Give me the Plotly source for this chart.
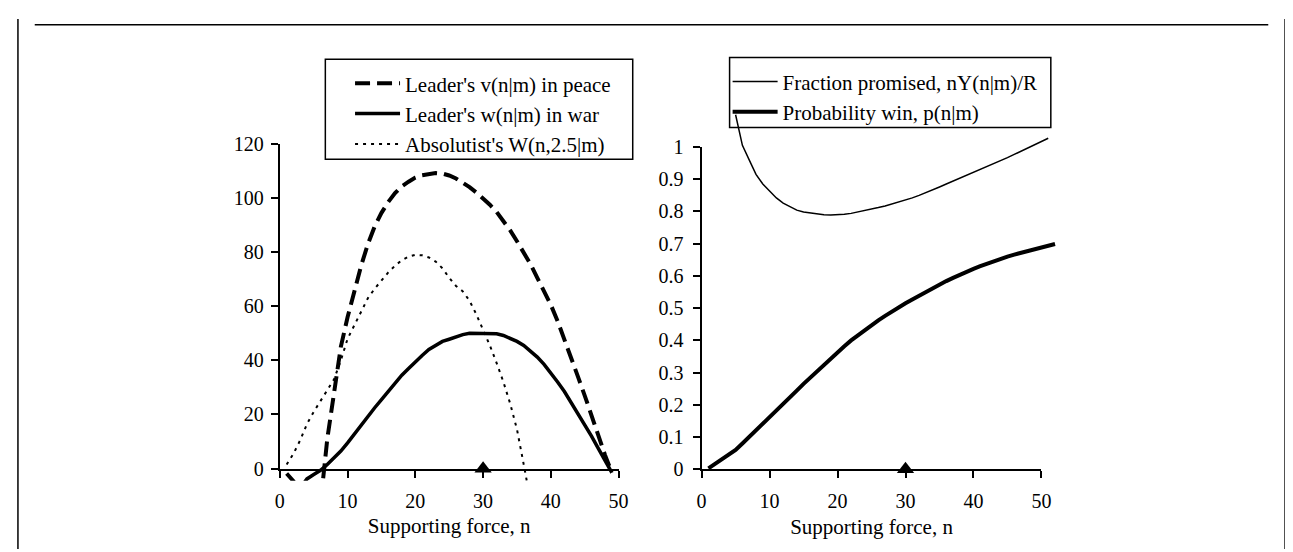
import plotly.graph_objects as go

# ---------------- data ----------------
n_left = list(range(1, 50))
peace_v = [-1.8, -4.6, -9, -14, -17, -13, 11, 28, 45, 56, 66, 75, 83, 89.5, 94.5, 98.5, 101.8,
           104.3, 106, 107.5, 108.4, 108.9, 109.2, 109, 108.3, 107.2, 105.8, 104, 102, 99.8,
           97.5, 94.8, 91.5, 88, 84, 80, 75.5, 70.5, 65.5, 60.5, 54.5, 48, 41, 34, 27, 19.5,
           12.5, 5, -1.5]
war_w = [-14, -10.5, -7.5, -3.8, -2.2, -0.6, 1.5, 3.8, 6.5, 9.5, 12.8, 16, 19.5, 22.5, 25.5,
         28.5, 31.5, 34.5, 37, 39.5, 41.8, 44, 45.5, 47, 47.8, 48.8, 49.5, 50, 50, 50, 50,
         49.8, 49.2, 48.2, 47, 45.5, 43.5, 41.2, 38.5, 35.5, 32, 28.5, 24.5, 20.5, 16.5, 12,
         7.5, 3, -1.5]
n_abs = list(range(1, 38))
absolutist_W = [1.5, 5.5, 10.5, 16.5, 21, 25, 29, 33, 40, 48, 53, 58, 63, 66.5, 69.5, 72.5,
                75, 77, 78.3, 79, 78.8, 78, 76.5, 74, 70.5, 67.5, 65.5, 62, 57, 51.5, 45.5,
                39, 32, 24, 14.5, 1.5, -12]

n_frac = list(range(5, 52))
fraction_promised = [1.10, 1.005, 0.96, 0.915, 0.885, 0.862, 0.842, 0.826, 0.814, 0.804,
                     0.798, 0.795, 0.792, 0.79, 0.789, 0.789, 0.791, 0.794, 0.798, 0.802,
                     0.807, 0.812, 0.817, 0.823, 0.829, 0.835, 0.842, 0.85, 0.858, 0.867,
                     0.876, 0.885, 0.894, 0.903, 0.912, 0.92, 0.929, 0.938, 0.948, 0.957,
                     0.967, 0.977, 0.987, 0.997, 1.008, 1.018, 1.027]
n_prob = list(range(1, 53))
prob_win = [0.003, 0.018, 0.032, 0.047, 0.06, 0.08, 0.1, 0.12, 0.14, 0.16, 0.18, 0.2, 0.222,
            0.244, 0.265, 0.285, 0.306, 0.326, 0.346, 0.364, 0.382, 0.4, 0.416, 0.432, 0.448,
            0.462, 0.476, 0.49, 0.503, 0.515, 0.527, 0.539, 0.551, 0.562, 0.573, 0.584, 0.594,
            0.604, 0.613, 0.622, 0.63, 0.638, 0.646, 0.653, 0.66, 0.666, 0.672, 0.678, 0.684,
            0.689, 0.694, 0.699]

marker_n = [30]
marker_y_left = [0]
marker_y_right = [0]

x_ticks = [0, 10, 20, 30, 40, 50]
left_y_ticks = [0, 20, 40, 60, 80, 100, 120]
right_y_ticks = [0, 0.1, 0.2, 0.3, 0.4, 0.5, 0.6, 0.7, 0.8, 0.9, 1]

# ---------------- layout geometry ----------------
W, H = 1293, 552
FONT = "Liberation Serif"
TICK_SIZE = 20
TEXT_SIZE = 21


def fx(p):
    return p / W


def fy(p):
    return 1 - p / H


# left panel pixel geometry
LX0, LX1 = 270.0, 612.7      # x=0, x=50
LY0, LY1 = 468.3, 130.0      # y=0, y=120
l_ppu_y = (LY0 - LY1) / 120.0
l_ext_low = -4.5             # data may dip slightly below the axis
# right panel pixel geometry
RX0, RX1 = 696.7, 1040.5     # x=0, x=50
RY0, RY1 = 469.0, 133.3      # y=0, y=1
r_ppu_x = (RX1 - RX0) / 50.0
r_ppu_y = (RY0 - RY1) / 1.0
r_ext_x = 53.5
r_ext_y_hi = 1.2
r_ext_y_lo = -0.01

fig = go.Figure()

# ---- left traces ----
fig.add_trace(go.Scatter(x=n_left, y=peace_v, mode="lines", name="Leader's v(n|m) in peace",
                         line=dict(color="black", width=4, dash="15px,7px"),
                         xaxis="x", yaxis="y3", legend="legend"))
fig.add_trace(go.Scatter(x=n_left, y=war_w, mode="lines", name="Leader's w(n|m) in war",
                         line=dict(color="black", width=3.5),
                         xaxis="x", yaxis="y3", legend="legend"))
fig.add_trace(go.Scatter(x=n_abs, y=absolutist_W, mode="lines", name="Absolutist's W(n,2.5|m)",
                         line=dict(color="black", width=2, dash="3px,5px"),
                         xaxis="x", yaxis="y3", legend="legend"))
fig.add_trace(go.Scatter(x=marker_n, y=marker_y_left, mode="markers", showlegend=False,
                         marker=dict(symbol="triangle-up", size=15, color="black"),
                         cliponaxis=False, xaxis="x", yaxis="y"))

# ---- right traces ----
fig.add_trace(go.Scatter(x=n_frac, y=fraction_promised, mode="lines",
                         name="Fraction promised, nY(n|m)/R",
                         line=dict(color="black", width=1.5),
                         xaxis="x4", yaxis="y4", legend="legend2"))
fig.add_trace(go.Scatter(x=n_prob, y=prob_win, mode="lines", name="Probability win, p(n|m)",
                         line=dict(color="black", width=4),
                         xaxis="x4", yaxis="y4", legend="legend2"))
fig.add_trace(go.Scatter(x=marker_n, y=marker_y_right, mode="markers", showlegend=False,
                         marker=dict(symbol="triangle-up", size=15, color="black"),
                         cliponaxis=False, xaxis="x2", yaxis="y2"))

axis_common = dict(showline=True, linecolor="black", linewidth=2, ticks="outside",
                   ticklen=7, tickwidth=1.5, tickcolor="black", showgrid=False,
                   zeroline=False, tickfont=dict(family=FONT, size=TICK_SIZE, color="black"),
                   fixedrange=True)

title_font = dict(family=FONT, size=TEXT_SIZE, color="black")

legend_common = dict(xanchor="left", yanchor="top", bgcolor="rgba(255,255,255,0)",
                     borderwidth=0, itemwidth=45, traceorder="normal",
                     font=dict(family=FONT, size=TEXT_SIZE, color="black"))

fig.update_layout(
    width=W, height=H,
    margin=dict(l=0, r=0, t=0, b=0),
    paper_bgcolor="white", plot_bgcolor="rgba(0,0,0,0)",
    font=dict(family=FONT, size=TEXT_SIZE, color="black"),
    xaxis=dict(domain=[fx(LX0), fx(LX1)], range=[0, 50], anchor="y", tickvals=x_ticks,
               ticklabelstandoff=6,
               title=dict(text="Supporting force, n", font=title_font, standoff=8),
               **axis_common),
    yaxis=dict(domain=[fy(LY0), fy(LY1)], range=[0, 120], anchor="x", tickvals=left_y_ticks,
               ticklabelstandoff=3, **axis_common),
    xaxis2=dict(domain=[fx(RX0), fx(RX1)], range=[0, 50], anchor="y2", tickvals=x_ticks,
                ticklabelstandoff=6,
                title=dict(text="Supporting force, n", font=title_font, standoff=8),
                **axis_common),
    yaxis2=dict(domain=[fy(RY0), fy(RY1)], range=[0, 1], anchor="x2", tickvals=right_y_ticks,
                ticktext=[f"{v:g}" for v in right_y_ticks], ticklabelstandoff=5,
                **axis_common),
    # hidden data axes (same scale, slightly larger area so lines can overrun the axes)
    yaxis3=dict(domain=[fy(LY0 - l_ext_low * l_ppu_y), fy(LY1)], range=[l_ext_low, 120],
                anchor="x", visible=False, fixedrange=True),
    xaxis4=dict(domain=[fx(RX0), fx(RX0 + r_ext_x * r_ppu_x)], range=[0, r_ext_x],
                anchor="y4", visible=False, fixedrange=True),
    yaxis4=dict(domain=[fy(RY0 - r_ext_y_lo * r_ppu_y), fy(RY0 - r_ext_y_hi * r_ppu_y)],
                range=[r_ext_y_lo, r_ext_y_hi], anchor="x4", visible=False, fixedrange=True),
    legend=dict(x=fx(341), y=fy(46), **legend_common),
    legend2=dict(x=fx(723), y=fy(44), **legend_common),
    showlegend=True,
    shapes=[
        # outer frame
        dict(type="line", xref="paper", yref="paper", x0=fx(5), x1=fx(5), y0=0, y1=1,
             line=dict(color="black", width=1.5)),
        dict(type="line", xref="paper", yref="paper", x0=fx(1287), x1=fx(1287), y0=0, y1=1,
             line=dict(color="black", width=1.5)),
        dict(type="line", xref="paper", yref="paper", x0=fx(22), x1=fx(1270), y0=fy(6),
             y1=fy(6), line=dict(color="black", width=1.5)),
        # legend boxes
        dict(type="rect", xref="paper", yref="paper", x0=fx(316), x1=fx(627), y0=fy(146),
             y1=fy(42), line=dict(color="black", width=1.5), fillcolor="rgba(0,0,0,0)",
             layer="above"),
        dict(type="rect", xref="paper", yref="paper", x0=fx(725), x1=fx(1050), y0=fy(113),
             y1=fy(40), line=dict(color="black", width=1.5), fillcolor="rgba(0,0,0,0)",
             layer="above"),
    ],
)

fig.write_html("out.html")
